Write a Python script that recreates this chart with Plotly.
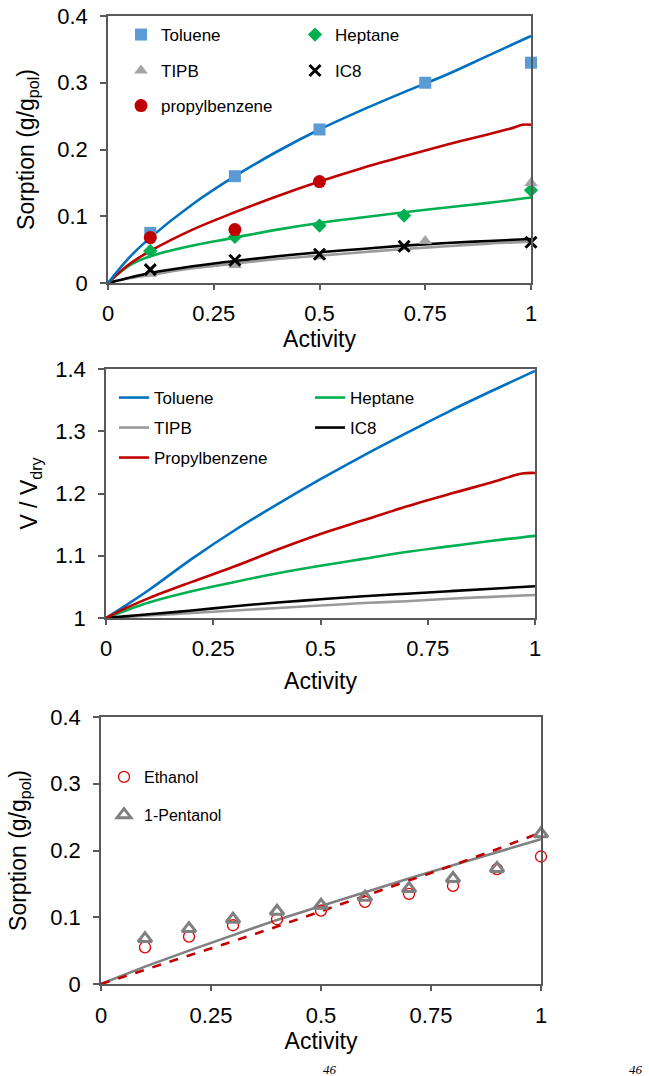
import plotly.graph_objects as go

W, H = 649, 1076
FONT = "Liberation Sans, Arial, sans-serif"

# ---------------- data: top panel (sorption, hydrocarbons) ----------------
act_pts = [0.1, 0.3, 0.5, 0.75, 1.0]
act_pts_hep = [0.1, 0.3, 0.5, 0.7, 1.0]
act_pts_pb = [0.1, 0.3, 0.5]
toluene_pts = [0.075, 0.160, 0.230, 0.300, 0.330]
heptane_pts = [0.048, 0.069, 0.086, 0.101, 0.139]
tipb_pts = [0.014, 0.027, 0.040, 0.063, 0.150]
ic8_pts = [0.020, 0.034, 0.043, 0.055, 0.061]
propyl_pts = [0.068, 0.080, 0.152]

fit_x = [0, 0.05, 0.1, 0.2, 0.3, 0.4, 0.5, 0.6, 0.7, 0.8, 0.9, 1.0]
toluene_fit = [0, 0.038, 0.068, 0.118, 0.160, 0.197, 0.230, 0.259, 0.286, 0.312, 0.341, 0.370]
heptane_fit = [0, 0.026, 0.040, 0.056, 0.068, 0.080, 0.090, 0.098, 0.106, 0.113, 0.120, 0.128]
ic8_fit = [0, 0.008, 0.015, 0.025, 0.033, 0.040, 0.046, 0.051, 0.056, 0.060, 0.063, 0.066]
tipb_fit = [0, 0.007, 0.012, 0.022, 0.029, 0.036, 0.041, 0.046, 0.051, 0.055, 0.059, 0.062]
propyl_fit_x = [0, 0.05, 0.1, 0.2, 0.3, 0.4, 0.5, 0.6, 0.7, 0.8, 0.9, 0.95, 0.98, 1.0]
propyl_fit = [0, 0.028, 0.048, 0.080, 0.106, 0.130, 0.152, 0.172, 0.190, 0.207, 0.223, 0.231, 0.237, 0.237]

# ---------------- data: middle panel (swelling) ----------------
sw_x = [0, 0.05, 0.1, 0.2, 0.3, 0.4, 0.5, 0.6, 0.7, 0.8, 0.9, 1.0]
sw_toluene = [1.0, 1.022, 1.045, 1.095, 1.141, 1.183, 1.223, 1.261, 1.297, 1.332, 1.365, 1.397]
sw_heptane = [1.0, 1.013, 1.025, 1.043, 1.058, 1.072, 1.084, 1.095, 1.106, 1.115, 1.124, 1.132]
sw_tipb = [1.0, 1.002, 1.004, 1.008, 1.012, 1.016, 1.020, 1.024, 1.027, 1.031, 1.034, 1.037]
sw_ic8 = [1.0, 1.003, 1.006, 1.012, 1.019, 1.025, 1.030, 1.035, 1.039, 1.043, 1.047, 1.051]
sw_pb_x = [0, 0.05, 0.1, 0.2, 0.3, 0.4, 0.5, 0.6, 0.7, 0.8, 0.9, 0.97, 1.0]
sw_propyl = [1.0, 1.017, 1.032, 1.058, 1.083, 1.110, 1.135, 1.157, 1.179, 1.199, 1.218, 1.232, 1.233]

# ---------------- data: bottom panel (alcohols) ----------------
alc_x = [0.1, 0.2, 0.3, 0.4, 0.5, 0.6, 0.7, 0.8, 0.9, 1.0]
ethanol_pts = [0.055, 0.071, 0.088, 0.097, 0.110, 0.123, 0.135, 0.147, 0.172, 0.191]
pentanol_pts = [0.068, 0.083, 0.097, 0.109, 0.118, 0.130, 0.143, 0.158, 0.173, 0.225]
alc_fit_x = [0, 0.1, 0.2, 0.3, 0.4, 0.5, 0.6, 0.7, 0.8, 0.9, 1.0]
pentanol_fit = [0, 0.026, 0.050, 0.073, 0.096, 0.117, 0.138, 0.158, 0.178, 0.198, 0.217]
ethanol_fit = [0, 0.021, 0.042, 0.064, 0.086, 0.109, 0.131, 0.154, 0.178, 0.202, 0.227]

x_ticks = [0, 0.25, 0.5, 0.75, 1]
x_ticktext = ["0", "0.25", "0.5", "0.75", "1"]

# colours
C_TOL_M = "#5B9BD5"
C_TOL_L = "#0070C0"
C_HEP = "#00B050"
C_TIPB_M = "#A5A5A5"
C_TIPB_L = "#9A9A9A"
C_IC8 = "#000000"
C_PB = "#C00000"


def px_x(p):
    return p / W


def px_y(p):
    return 1 - p / H


fig = go.Figure()

# ----- top panel lines -----
for xs, ys, c in [(fit_x, tipb_fit, C_TIPB_L), (fit_x, ic8_fit, C_IC8), (fit_x, heptane_fit, C_HEP),
                  (propyl_fit_x, propyl_fit, C_PB), (fit_x, toluene_fit, C_TOL_L)]:
    fig.add_trace(go.Scatter(x=xs, y=ys, mode="lines", line=dict(color=c, width=2.6, shape="spline"),
                             showlegend=False, xaxis="x", yaxis="y", hoverinfo="skip"))

# ----- top panel markers -----
fig.add_trace(go.Scatter(x=act_pts, y=toluene_pts, mode="markers", name="Toluene",
                         marker=dict(symbol="square", size=12, color=C_TOL_M),
                         legend="legend", xaxis="x", yaxis="y", cliponaxis=False))
fig.add_trace(go.Scatter(x=act_pts_hep, y=heptane_pts, mode="markers", name="Heptane",
                         marker=dict(symbol="diamond", size=11, color=C_HEP),
                         legend="legend", xaxis="x", yaxis="y", cliponaxis=False))
fig.add_trace(go.Scatter(x=act_pts, y=tipb_pts, mode="markers", name="TIPB",
                         marker=dict(symbol="triangle-up", size=12, color=C_TIPB_M),
                         legend="legend2", xaxis="x", yaxis="y", cliponaxis=False))
fig.add_trace(go.Scatter(x=act_pts_hep, y=ic8_pts, mode="markers", name="IC8",
                         marker=dict(symbol="x-thin", size=11, color=C_IC8,
                                     line=dict(color=C_IC8, width=3)),
                         legend="legend2", xaxis="x", yaxis="y", cliponaxis=False))
fig.add_trace(go.Scatter(x=act_pts_pb, y=propyl_pts, mode="markers", name="propylbenzene",
                         marker=dict(symbol="circle", size=13, color=C_PB),
                         legend="legend3", xaxis="x", yaxis="y", cliponaxis=False))

# ----- middle panel -----
fig.add_trace(go.Scatter(x=sw_x, y=sw_toluene, mode="lines", name="Toluene",
                         line=dict(color=C_TOL_L, width=2.6, shape="spline"),
                         legend="legend4", xaxis="x2", yaxis="y2"))
fig.add_trace(go.Scatter(x=sw_x, y=sw_heptane, mode="lines", name="Heptane",
                         line=dict(color=C_HEP, width=2.6, shape="spline"),
                         legend="legend4", xaxis="x2", yaxis="y2"))
fig.add_trace(go.Scatter(x=sw_x, y=sw_tipb, mode="lines", name="TIPB",
                         line=dict(color=C_TIPB_L, width=2.6, shape="spline"),
                         legend="legend5", xaxis="x2", yaxis="y2"))
fig.add_trace(go.Scatter(x=sw_x, y=sw_ic8, mode="lines", name="IC8",
                         line=dict(color=C_IC8, width=2.6, shape="spline"),
                         legend="legend5", xaxis="x2", yaxis="y2"))
fig.add_trace(go.Scatter(x=sw_pb_x, y=sw_propyl, mode="lines", name="Propylbenzene",
                         line=dict(color=C_PB, width=2.6, shape="spline"),
                         legend="legend6", xaxis="x2", yaxis="y2"))

# ----- bottom panel -----
fig.add_trace(go.Scatter(x=alc_fit_x, y=pentanol_fit, mode="lines", showlegend=False,
                         line=dict(color="#808080", width=2.6), xaxis="x3", yaxis="y3"))
fig.add_trace(go.Scatter(x=alc_fit_x, y=ethanol_fit, mode="lines", showlegend=False,
                         line=dict(color=C_PB, width=2.6, dash="dash"), xaxis="x3", yaxis="y3"))
fig.add_trace(go.Scatter(x=alc_x, y=ethanol_pts, mode="markers", name="Ethanol",
                         marker=dict(symbol="circle-open", size=11, color="#E00000",
                                     line=dict(color="#E00000", width=1.3)),
                         legend="legend7", legendgroup="eth", xaxis="x3", yaxis="y3", cliponaxis=False))
fig.add_trace(go.Scatter(x=alc_x, y=pentanol_pts, mode="markers", name="1-Pentanol",
                         marker=dict(symbol="triangle-up-open", size=12, color="#808080",
                                     line=dict(color="#808080", width=3)),
                         legend="legend7", legendgroup="pent", xaxis="x3", yaxis="y3", cliponaxis=False))

AXLINE = "#595959"
tickfont = dict(family=FONT, size=22, color="#000000")
titlefont = dict(family=FONT, size=23, color="#000000")


def xaxis(dom, anchor, tstand, lstand):
    return dict(domain=dom, anchor=anchor, range=[0, 1], tickvals=x_ticks, ticktext=x_ticktext,
                showgrid=False, zeroline=False, showline=True, linecolor=AXLINE, linewidth=1.5,
                mirror=True, ticks="outside", ticklen=5, tickcolor=AXLINE, tickwidth=1.5,
                tickfont=tickfont, ticklabelstandoff=lstand,
                title=dict(text="Activity", font=titlefont, standoff=tstand), automargin=False)


def yaxis(dom, anchor, rng, tv, tt, title, tstand):
    return dict(domain=dom, anchor=anchor, range=rng, tickvals=tv, ticktext=tt,
                showgrid=False, zeroline=False, showline=True, linecolor=AXLINE, linewidth=1.5,
                mirror=True, ticks="outside", ticklen=6, tickcolor=AXLINE, tickwidth=1.5,
                tickfont=tickfont, ticklabelstandoff=8,
                title=dict(text=title, font=titlefont, standoff=tstand), automargin=False)


sorp_title = "Sorption (g/g<sub>pol</sub>)"
y_sorp_tv = [0, 0.1, 0.2, 0.3, 0.4]
y_sorp_tt = ["0", "0.1", "0.2", "0.3", "0.4"]
y_sw_tv = [1, 1.1, 1.2, 1.3, 1.4]
y_sw_tt = ["1", "1.1", "1.2", "1.3", "1.4"]

legfont = dict(family=FONT, size=17, color="#000000")


def hleg(xp, yp, ew):
    return dict(x=px_x(xp), y=px_y(yp), xanchor="left", yanchor="top", orientation="h",
                entrywidth=ew, entrywidthmode="pixels", bgcolor="rgba(0,0,0,0)",
                font=legfont, borderwidth=0, tracegroupgap=0, itemclick=False)


fig.update_layout(
    width=W, height=H, margin=dict(l=0, r=0, t=0, b=0),
    paper_bgcolor="white", plot_bgcolor="white",
    font=dict(family=FONT, color="#000000"),
    xaxis=xaxis([px_x(108), px_x(531)], "y", 0, 5),
    yaxis=yaxis([px_y(283), px_y(16)], "x", [0, 0.4], y_sorp_tv, y_sorp_tt, sorp_title, 16),
    xaxis2=xaxis([px_x(106), px_x(535)], "y2", 13, 5),
    yaxis2=yaxis([px_y(618), px_y(369)], "x2", [1, 1.4], y_sw_tv, y_sw_tt, "V / V<sub>dry</sub>", 11),
    xaxis3=xaxis([px_x(101), px_x(541)], "y3", 0, 6),
    yaxis3=yaxis([px_y(984), px_y(717)], "x3", [0, 0.4], y_sorp_tv, y_sorp_tt, sorp_title, 17),
    legend=hleg(121, 17, 129),
    legend2=hleg(121, 53, 129),
    legend3=hleg(121, 88, 129),
    legend4=hleg(114, 380, 151),
    legend5=hleg(114, 410, 151),
    legend6=hleg(114, 440, 151),
    legend7=dict(x=px_x(104), y=px_y(760), xanchor="left", yanchor="top", orientation="v",
                 bgcolor="rgba(0,0,0,0)", font=dict(family=FONT, size=16, color="#000000"),
                 tracegroupgap=14, itemclick=False),
    showlegend=True,
)

# cut-off caption fragments at the bottom edge
for xp in [330, 636]:
    fig.add_annotation(x=px_x(xp), y=px_y(1069), xref="paper", yref="paper", text="<i>46</i>",
                       showarrow=False, font=dict(family="Liberation Serif, serif", size=13, color="#000000"),
                       xanchor="center", yanchor="middle")

fig.write_html("out.html")
